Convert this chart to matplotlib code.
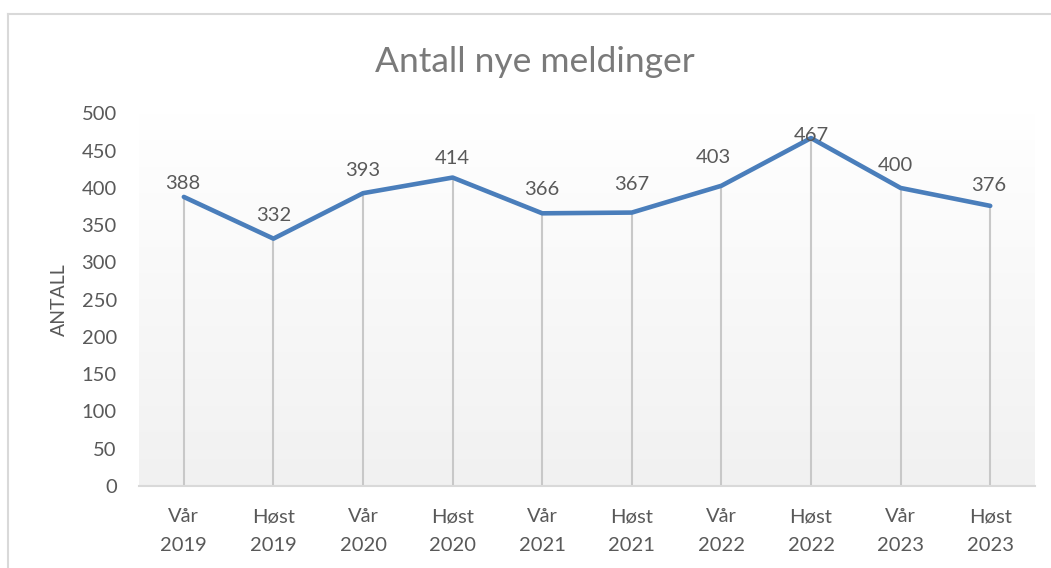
import matplotlib.pyplot as plt
from matplotlib.lines import Line2D
import numpy as np

# data
categories = ["Vår\n2019", "Høst\n2019", "Vår\n2020", "Høst\n2020", "Vår\n2021",
              "Høst\n2021", "Vår\n2022", "Høst\n2022", "Vår\n2023", "Høst\n2023"]
values = [388, 332, 393, 414, 366, 367, 403, 467, 400, 376]
y_ticks = [0, 50, 100, 150, 200, 250, 300, 350, 400, 450, 500]

# label offsets above each point (points)
label_dy = [10, 17, 16, 14, 17, 20, 20, 1.5, 16.5, 15]
label_dx = [-1, 0, 0, 0, 0, 0, -6, 0, -4, -1]

plt.rcParams['font.family'] = ['Lato', 'DejaVu Sans']

text_grey = "#595959"
line_blue = "#4A7EBB"

fig = plt.figure(figsize=(10.51, 5.68), dpi=100)
ax = fig.add_axes([0.1323, 0.1444, 0.8525, 0.6558])

x = np.arange(len(categories))
ax.set_xlim(-0.5, len(categories) - 0.5)
ax.set_ylim(0, 500)

# gradient plot area, white at top to light grey at bottom
grad = np.linspace(1.0, 0.0, 256).reshape(-1, 1)
top = np.array([1.0, 1.0, 1.0])
bottom = np.array([0xF1, 0xF1, 0xF1]) / 255
img = grad[..., None] * top + (1 - grad[..., None]) * bottom
ax.imshow(img, extent=[-0.5, len(categories) - 0.5, 0, 500], aspect="auto", zorder=0)

# drop lines from each point to the axis
ax.vlines(x, 0, values, color="#C8C8C8", linewidth=1.5, zorder=1)

# the series
ax.plot(x, values, color=line_blue, linewidth=3.3, solid_joinstyle="round",
        solid_capstyle="round", zorder=3)

# data labels
for xi, v, dx, dy in zip(x, values, label_dx, label_dy):
    ax.annotate(str(v), (xi, v), xytext=(dx, dy), textcoords="offset points",
                ha="center", va="center", fontsize=14.5, color=text_grey, zorder=4)

# axes styling
for side in ["top", "right", "left"]:
    ax.spines[side].set_visible(False)
ax.spines["bottom"].set_color("#D9D9D9")
ax.spines["bottom"].set_linewidth(1.5)
ax.spines["bottom"].set_zorder(2)

ax.set_xticks(x)
ax.set_xticklabels(categories, linespacing=1.85)
ax.set_yticks(y_ticks)
ax.tick_params(axis="both", length=0, labelsize=14.5, labelcolor=text_grey)
ax.tick_params(axis="y", pad=16)
ax.tick_params(axis="x", pad=16)

ax.set_ylabel("ANTALL", fontsize=14, color=text_grey, labelpad=10)

# title
fig.text(0.509, 0.891, "Antall nye meldinger", ha="center", va="center",
         fontsize=25.5, color="#7A7A7A")

# chart border (top and left edges visible)
fig.add_artist(Line2D([7.5 / 1051, 1.0], [1 - 13.5 / 568, 1 - 13.5 / 568],
                      transform=fig.transFigure, color="#D9D9D9", linewidth=1.5))
fig.add_artist(Line2D([7.5 / 1051, 7.5 / 1051], [0.0, 1 - 13.5 / 568],
                      transform=fig.transFigure, color="#D9D9D9", linewidth=1.5))

fig.savefig("out.png", dpi=100)
